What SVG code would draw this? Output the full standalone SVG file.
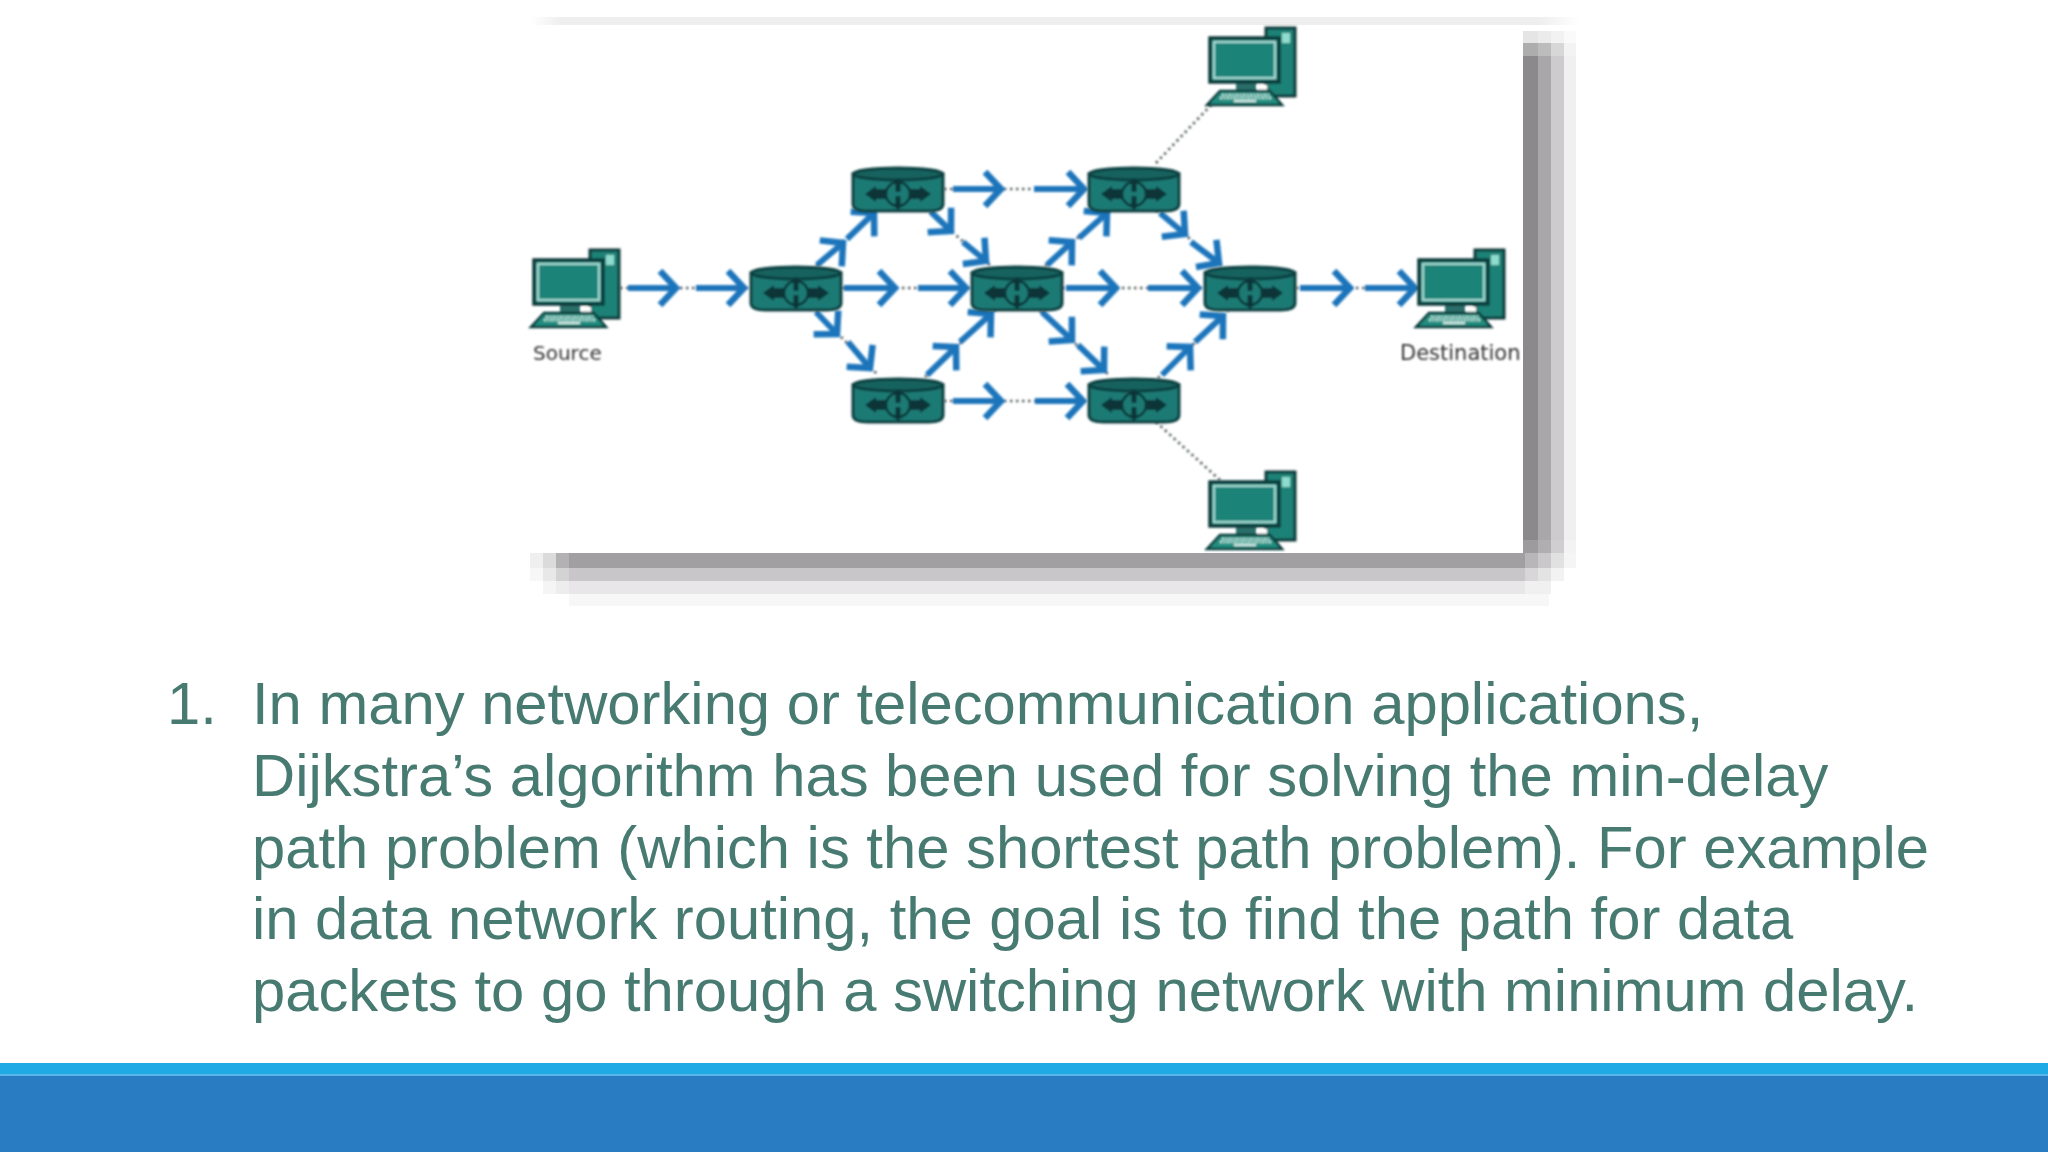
<svg xmlns="http://www.w3.org/2000/svg" width="2048" height="1152" viewBox="0 0 2048 1152">
<style>
.body{font-family:"Liberation Sans",Arial,sans-serif;font-size:59.75px;fill:#477a71}
.lab{font-family:"DejaVu Sans",sans-serif;font-size:20px;fill:#333}
.dot{stroke:#4f5a58;stroke-width:2.6;stroke-dasharray:2.4 3.6;fill:none}
.arr{stroke:#1b75bb;stroke-width:6;fill:none;marker-end:url(#head)}
.rt{fill:#1a7a75;stroke:#0f3f40;stroke-width:3}
.gl{fill:#0b3537}
.glo{fill:none;stroke:#0b3537;stroke-width:2.5}
.dk{stroke:#0e3b3a;stroke-width:3}
</style>
<defs>
<filter id="soft" x="-5%" y="-5%" width="110%" height="110%"><feGaussianBlur stdDeviation="0.8"/></filter>
<marker id="head" markerUnits="userSpaceOnUse" markerWidth="34" markerHeight="40" refX="20" refY="20" orient="auto" overflow="visible">
<path d="M4,3 L20,20 L4,37" fill="none" stroke="#1b75bb" stroke-width="6.5"/>
</marker>
<g id="router">
<path class="rt" d="M-45,-15 V15 Q-45,22 -30,22 H30 Q45,22 45,15 V-15 Z"/>
<ellipse cx="0" cy="-15" rx="45" ry="6" fill="#14625f" stroke="#0f3f40" stroke-width="3"/>
<path class="gl" d="M-33,5 L-22,-3 V0 H-12 V10 H-22 V13 Z"/>
<path class="gl" d="M33,5 L22,-3 V0 H12 V10 H22 V13 Z"/>
<circle cx="0" cy="5" r="12" class="glo"/>
<path class="gl" d="M-6,-5 L0,-11 L6,-5 H2.5 V3 H-2.5 V-5 Z"/>
<path class="gl" d="M-6,15 L0,21 L6,15 H2.5 V7 H-2.5 V15 Z"/>
</g>
<g id="pc">
<rect x="60" y="1" width="29" height="68" fill="#1d8277" class="dk"/>
<rect x="76" y="6" width="8" height="10" fill="#8fdccf"/>
<rect x="30" y="55" width="20" height="9" fill="#2c6e69"/>
<rect x="52" y="58" width="9" height="5" fill="#fff"/>
<rect x="4" y="11" width="69" height="44" fill="#1d8277" stroke="#0e3b3a" stroke-width="3.5"/>
<rect x="8" y="15" width="61" height="36" fill="#1a8379" stroke="#a4dfd6" stroke-width="2"/>
<path d="M14,64 H64 L76,78 H1 Z" fill="#248e80" stroke="#0e3b3a" stroke-width="2.5"/>
<path d="M16,68 H63 M14,71 H65" stroke="#c7ece5" stroke-width="2.5" stroke-dasharray="2 1.5"/>
<path d="M28,74 H50" stroke="#d8f2ed" stroke-width="2"/>
</g>
<linearGradient id="topfade" x1="0" x2="1" y1="0" y2="0">
<stop offset="0" stop-color="#efeeef" stop-opacity="0"/><stop offset="0.03" stop-color="#efeeef"/><stop offset="0.96" stop-color="#efeeef"/><stop offset="1" stop-color="#efeeef" stop-opacity="0"/>
</linearGradient>
</defs>
<rect width="2048" height="1152" fill="#fff"/>

<g id="picture-shadow">
<rect x="530" y="17" width="1050" height="8" fill="url(#topfade)"/>
<rect x="1523" y="31" width="15" height="12" fill="#e6e5e6"/>
<rect x="1538" y="31" width="13" height="12" fill="#eceBec"/>
<rect x="1551" y="31" width="13" height="12" fill="#f3f2f3"/>
<rect x="1564" y="31" width="12" height="12" fill="#fafafa"/>
<rect x="1523" y="43" width="15" height="13" fill="#aeadae"/>
<rect x="1538" y="43" width="13" height="13" fill="#bdbcbd"/>
<rect x="1551" y="43" width="13" height="13" fill="#d8d7d8"/>
<rect x="1564" y="43" width="12" height="13" fill="#f4f3f4"/>
<rect x="1523" y="56" width="15" height="484" fill="#8b898b"/>
<rect x="1538" y="56" width="13" height="484" fill="#a9a7a9"/>
<rect x="1551" y="56" width="13" height="484" fill="#cdcbcd"/>
<rect x="1564" y="56" width="12" height="484" fill="#f1f0f1"/>
<rect x="1523" y="540" width="15" height="13" fill="#9d9b9d"/>
<rect x="1538" y="540" width="13" height="13" fill="#b0aeb0"/>
<rect x="1551" y="540" width="13" height="13" fill="#d0ced0"/>
<rect x="1564" y="540" width="12" height="13" fill="#f4f3f4"/>
<rect x="530" y="553" width="13" height="15" fill="#f0eff0"/>
<rect x="543" y="553" width="13" height="15" fill="#dcdbdc"/>
<rect x="556" y="553" width="13" height="15" fill="#b3b1b3"/>
<rect x="569" y="553" width="956" height="15" fill="#a19fa1"/>
<rect x="1525" y="553" width="13" height="15" fill="#b8b6b8"/>
<rect x="1538" y="553" width="13" height="15" fill="#cac8ca"/>
<rect x="1551" y="553" width="13" height="15" fill="#e2e1e2"/>
<rect x="1564" y="553" width="12" height="15" fill="#f6f5f6"/>
<rect x="530" y="568" width="13" height="13" fill="#f8f7f8"/>
<rect x="543" y="568" width="13" height="13" fill="#e9e8e9"/>
<rect x="556" y="568" width="13" height="13" fill="#d4d3d4"/>
<rect x="569" y="568" width="956" height="13" fill="#c8c6c8"/>
<rect x="1525" y="568" width="13" height="13" fill="#d8d6d8"/>
<rect x="1538" y="568" width="13" height="13" fill="#e4e3e4"/>
<rect x="1551" y="568" width="13" height="13" fill="#f3f2f3"/>
<rect x="543" y="581" width="13" height="13" fill="#f6f5f6"/>
<rect x="556" y="581" width="13" height="13" fill="#eeedee"/>
<rect x="569" y="581" width="956" height="13" fill="#e8e6e8"/>
<rect x="1525" y="581" width="26" height="13" fill="#f1f0f1"/>
<rect x="569" y="594" width="980" height="12" fill="#f8f7f8"/>
</g>

<g id="connectors" filter="url(#soft)">
<path class="dot" d="M620,288 H750"/>
<path class="dot" d="M842,288 H972"/>
<path class="dot" d="M1062,288 H1204"/>
<path class="dot" d="M1296,288 H1416"/>
<path class="dot" d="M944,189 H1088"/>
<path class="dot" d="M944,401 H1088"/>
<path class="dot" d="M816,266 L878,209"/>
<path class="dot" d="M816,311 L878,375"/>
<path class="dot" d="M925,377 L996,309"/>
<path class="dot" d="M925,208 L992,267"/>
<path class="dot" d="M1045,266 L1112,208"/>
<path class="dot" d="M1040,311 L1110,376"/>
<path class="dot" d="M1156,210 L1224,268"/>
<path class="dot" d="M1158,378 L1228,311"/>
<path class="dot" d="M1156,163 L1212,104"/>
<path class="dot" d="M1156,422 L1221,481"/>
<line class="arr" x1="628" y1="288" x2="676" y2="288"/>
<line class="arr" x1="696" y1="288" x2="744" y2="288"/>
<line class="arr" x1="844" y1="288" x2="895" y2="288"/>
<line class="arr" x1="918" y1="288" x2="966" y2="288"/>
<line class="arr" x1="1066" y1="288" x2="1116" y2="288"/>
<line class="arr" x1="1148" y1="288" x2="1198" y2="288"/>
<line class="arr" x1="1300" y1="288" x2="1350" y2="288"/>
<line class="arr" x1="1365" y1="288" x2="1415" y2="288"/>
<line class="arr" x1="953" y1="189" x2="1001" y2="189"/>
<line class="arr" x1="1034" y1="189" x2="1084" y2="189"/>
<line class="arr" x1="953" y1="401" x2="1001" y2="401"/>
<line class="arr" x1="1035" y1="401" x2="1083" y2="401"/>
<line class="arr" x1="817" y1="265" x2="843" y2="243"/>
<line class="arr" x1="847" y1="239" x2="874" y2="213"/>
<line class="arr" x1="816" y1="312" x2="837" y2="334"/>
<line class="arr" x1="848" y1="342" x2="870" y2="368"/>
<line class="arr" x1="927" y1="375" x2="956" y2="347"/>
<line class="arr" x1="960" y1="342" x2="991" y2="314"/>
<line class="arr" x1="931" y1="212" x2="951" y2="231"/>
<line class="arr" x1="963" y1="242" x2="986" y2="261"/>
<line class="arr" x1="1047" y1="265" x2="1072" y2="242"/>
<line class="arr" x1="1079" y1="238" x2="1107" y2="213"/>
<line class="arr" x1="1042" y1="312" x2="1072" y2="340"/>
<line class="arr" x1="1078" y1="345" x2="1104" y2="370"/>
<line class="arr" x1="1160" y1="213" x2="1185" y2="234"/>
<line class="arr" x1="1191" y1="242" x2="1219" y2="263"/>
<line class="arr" x1="1162" y1="375" x2="1190" y2="347"/>
<line class="arr" x1="1195" y1="342" x2="1223" y2="316"/>
</g>

<g id="routers" filter="url(#soft)">
<g id="r1"><use href="#router" transform="translate(796,288)"/></g>
<g id="r2"><use href="#router" transform="translate(898,189)"/></g>
<g id="r3"><use href="#router" transform="translate(898,400)"/></g>
<g id="r4"><use href="#router" transform="translate(1017,288)"/></g>
<g id="r5"><use href="#router" transform="translate(1134,189)"/></g>
<g id="r6"><use href="#router" transform="translate(1134,400)"/></g>
<g id="r7"><use href="#router" transform="translate(1250,288)"/></g>
</g>

<g id="computers" filter="url(#soft)">
<g id="source"><use href="#pc" transform="translate(530,249)"/><text class="lab" x="533" y="360">Source</text></g>
<g id="pc-top"><use href="#pc" transform="translate(1206,27)"/></g>
<g id="pc-bottom"><use href="#pc" transform="translate(1206,471)"/></g>
<g id="destination"><use href="#pc" transform="translate(1415,249)"/><text class="lab" x="1400" y="360" style="font-size:21px">Destination</text></g>
</g>

<g id="caption">
<text class="body" x="167" y="724">1.</text>
<text class="body" x="252" y="724">In many networking or telecommunication applications,</text>
<text class="body" x="252" y="796">Dijkstra’s algorithm has been used for solving the min-delay</text>
<text class="body" x="252" y="868">path problem (which is the shortest path problem). For example</text>
<text class="body" x="252" y="939">in data network routing, the goal is to find the path for data</text>
<text class="body" x="252" y="1011">packets to go through a switching network with minimum delay.</text>
</g>

<g id="footer">
<rect x="0" y="1063" width="2048" height="11" fill="#1fa9e5"/>
<rect x="0" y="1074" width="2048" height="2" fill="#58b6e8"/>
<rect x="0" y="1076" width="2048" height="76" fill="#2a7cc2"/>
</g>
</svg>
